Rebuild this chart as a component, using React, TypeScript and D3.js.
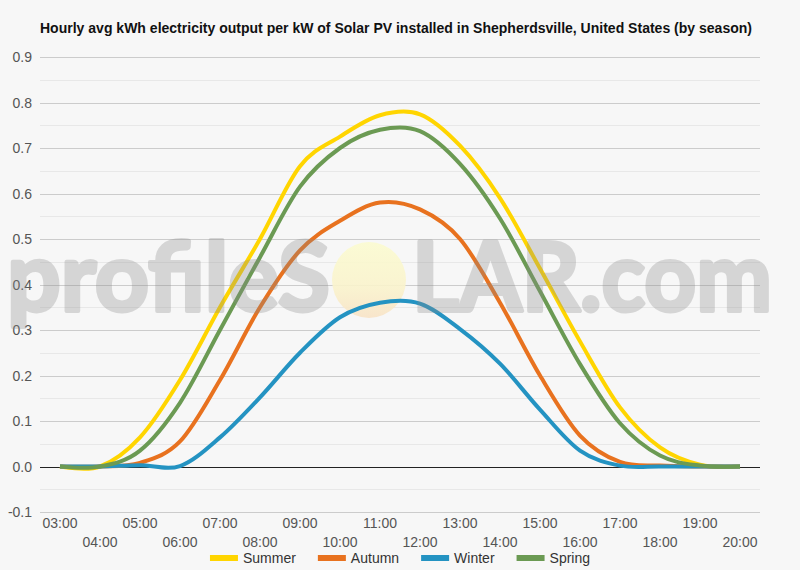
import React, { useEffect, useRef } from 'react';
import * as d3 from 'd3';

const hours = ["03:00", "04:00", "05:00", "06:00", "07:00", "08:00", "09:00", "10:00", "11:00",
    "12:00", "13:00", "14:00", "15:00", "16:00", "17:00", "18:00", "19:00", "20:00"];

const summer = [0, 0, 0.064, 0.19, 0.35, 0.5, 0.66, 0.725, 0.772, 0.774, 0.705, 0.59, 0.435, 0.275, 0.13, 0.042, 0.004, 0];
const autumn = [0, 0, 0.008, 0.055, 0.19, 0.35, 0.475, 0.54, 0.58, 0.565, 0.5, 0.36, 0.2, 0.068, 0.01, 0.002, 0, 0];
const winter = [0, 0, 0.003, 0.001, 0.064, 0.152, 0.25, 0.328, 0.36, 0.358, 0.302, 0.226, 0.125, 0.035, 0.002, 0, 0, 0];
const spring = [0, 0, 0.035, 0.14, 0.3, 0.46, 0.615, 0.7, 0.74, 0.737, 0.665, 0.545, 0.385, 0.225, 0.095, 0.024, 0.002, 0];

const seriesNames = ["Summer", "Autumn", "Winter", "Spring"];
const seriesValues = [summer, autumn, winter, spring];
const seriesColors = ["#ffd500", "#e8721f", "#2493c2", "#6b9a53"];

const yTicks = [-0.1, 0, 0.1, 0.2, 0.3, 0.4, 0.5, 0.6, 0.7, 0.8, 0.9];

const title = "Hourly avg kWh electricity output per kW of Solar PV installed in Shepherdsville, United States (by season)";

const W = 800;
const H = 570;

export default function App() {
    const svgRef = useRef<SVGSVGElement>(null);

    useEffect(() => {
        document.body.style.margin = "0";
        if (!svgRef.current) return;

        const margin = { top: 57, right: 40, bottom: 58, left: 40 };
        const svg = d3.select(svgRef.current);
        svg.selectAll("*").remove();

        svg.append("rect").attr("width", W).attr("height", H).attr("fill", "#f7f7f7");

        const x = d3.scalePoint<string>()
            .domain(hours)
            .range([margin.left, W - margin.right])
            .padding(0.5);

        const y = d3.scaleLinear()
            .domain([-0.1, 0.9])
            .range([H - margin.bottom, margin.top]);

        // snap grid lines to the pixel grid
        const crisp = (v: number) => Math.round(y(v)) + 0.5;

        // title
        svg.append("text")
            .attr("x", 40)
            .attr("y", 33)
            .attr("font-family", "'Liberation Sans', Arial, sans-serif")
            .attr("font-size", 14)
            .attr("font-weight", "bold")
            .attr("fill", "#111")
            .attr("textLength", 712)
            .attr("lengthAdjust", "spacingAndGlyphs")
            .text(title);

        // grid
        const minor = d3.range(-0.05, 0.9, 0.1);
        svg.append("g").selectAll("line")
            .data(minor)
            .enter().append("line")
            .attr("x1", margin.left).attr("x2", W - margin.right)
            .attr("y1", d => crisp(d)).attr("y2", d => crisp(d))
            .attr("stroke", "#e8e8e8");

        svg.append("g").selectAll("line")
            .data(yTicks.filter(d => d !== 0))
            .enter().append("line")
            .attr("x1", margin.left).attr("x2", W - margin.right)
            .attr("y1", d => crisp(d)).attr("y2", d => crisp(d))
            .attr("stroke", "#cccccc");

        // y labels
        svg.append("g").selectAll("text")
            .data(yTicks)
            .enter().append("text")
            .attr("x", 32)
            .attr("y", d => y(d) + 5)
            .attr("text-anchor", "end")
            .attr("font-family", "'Liberation Sans', Arial, sans-serif")
            .attr("font-size", 14)
            .attr("fill", "#555")
            .text(d => d.toFixed(1));

        // x labels, staggered in two rows
        svg.append("g").selectAll("text")
            .data(hours)
            .enter().append("text")
            .attr("x", d => x(d)!)
            .attr("y", (_, i) => i % 2 === 0 ? 528 : 547)
            .attr("text-anchor", "middle")
            .attr("font-family", "'Liberation Sans', Arial, sans-serif")
            .attr("font-size", 14)
            .attr("fill", "#555")
            .text(d => d);

        // watermark sun
        const defs = svg.append("defs");
        const grad = defs.append("linearGradient")
            .attr("id", "sun")
            .attr("x1", "0%").attr("y1", "0%").attr("x2", "0%").attr("y2", "100%");
        grad.append("stop").attr("offset", "0%").attr("stop-color", "#fbfbd0");
        grad.append("stop").attr("offset", "60%").attr("stop-color", "#faf3cc");
        grad.append("stop").attr("offset", "100%").attr("stop-color", "#f8e3c6");

        svg.append("ellipse")
            .attr("cx", 369).attr("cy", 280)
            .attr("rx", 37).attr("ry", 38)
            .attr("fill", "url(#sun)")
            .attr("opacity", 0.9);

        // zero line
        svg.append("line")
            .attr("x1", margin.left).attr("x2", W - margin.right)
            .attr("y1", crisp(0)).attr("y2", crisp(0))
            .attr("stroke", "#222");

        // series
        const line = d3.line<number>()
            .x((_, i) => x(hours[i])!)
            .y(d => y(d))
            .curve(d3.curveCardinal.tension(0));

        svg.append("g").selectAll("path")
            .data(seriesValues)
            .enter().append("path")
            .attr("d", d => line(d))
            .attr("fill", "none")
            .attr("stroke", (_, i) => seriesColors[i])
            .attr("stroke-width", 4)
            .attr("stroke-linejoin", "round");

        // watermark text (stroke thickens the glyphs, group opacity keeps it even)
        const wm = svg.append("g")
            .attr("opacity", 0.3)
            .attr("font-family", "Lato, 'Open Sans', sans-serif")
            .attr("font-weight", 700)
            .attr("font-size", 96)
            .attr("fill", "#8a8a8a")
            .attr("stroke", "#8a8a8a")
            .attr("stroke-width", 4)
            .attr("stroke-linejoin", "round");
        wm.append("text")
            .attr("x", 7).attr("y", 311)
            .attr("textLength", 323)
            .attr("lengthAdjust", "spacingAndGlyphs")
            .text("profileS");
        wm.append("text")
            .attr("x", 412).attr("y", 311)
            .attr("textLength", 360)
            .attr("lengthAdjust", "spacingAndGlyphs")
            .text("LAR.com");

        // legend
        const legend = svg.append("g");
        const items = legend.selectAll("g")
            .data(seriesNames)
            .enter().append("g");
        items.append("rect")
            .attr("width", 28).attr("height", 6)
            .attr("y", 555)
            .attr("fill", (_, i) => seriesColors[i]);
        const labels = items.append("text")
            .attr("x", 33)
            .attr("y", 563)
            .attr("font-family", "'Liberation Sans', Arial, sans-serif")
            .attr("font-size", 14)
            .attr("fill", "#333")
            .text(d => d);

        const gap = 22;
        const widths = labels.nodes().map(n => 33 + (n as SVGTextElement).getComputedTextLength());
        const total = d3.sum(widths) + gap * (widths.length - 1);
        let pos = (W - total) / 2;
        items.attr("transform", (_, i) => {
            const t = `translate(${pos},0)`;
            pos += widths[i] + gap;
            return t;
        });
    }, []);

    return <svg ref={svgRef} width={W} height={H} style={{ display: "block" }} />;
}
